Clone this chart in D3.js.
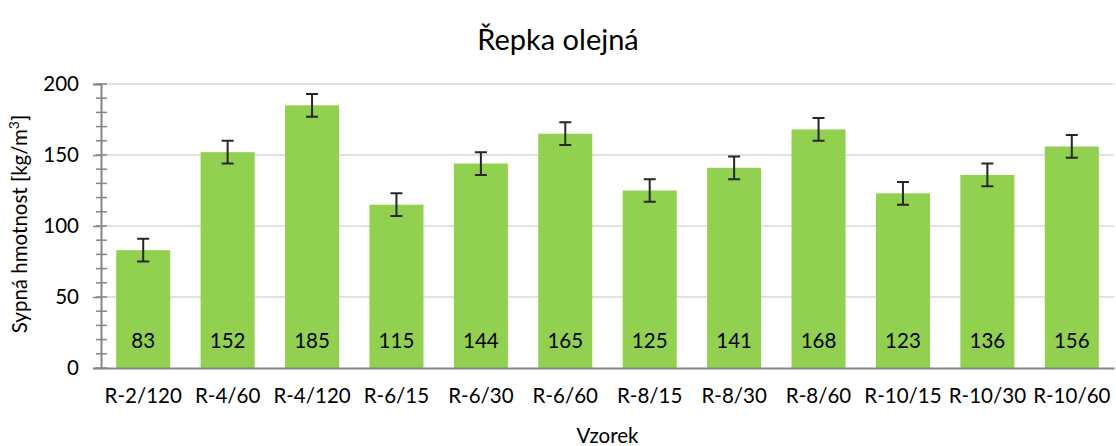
<!DOCTYPE html>
<html lang="cs">
<head>
    <meta charset="UTF-8">
    <title>Řepka olejná</title>
    <script src="https://cdn.jsdelivr.net/npm/d3@7"></script>
    <style>
        body { margin: 0; background: #fff; }
        text { font-family: Lato, "Open Sans", sans-serif; fill: #000; }
    </style>
</head>
<body>
    <svg width="1116" height="446"></svg>
    <script>
        var categories = ["R-2/120","R-4/60","R-4/120","R-6/15","R-6/30","R-6/60","R-8/15","R-8/30","R-8/60","R-10/15","R-10/30","R-10/60"];
        var values = [83,152,185,115,144,165,125,141,168,123,136,156];
        var errors = [8,8,8,8,8,8,8,8,8,8,8,8];
        var yTicks = [0,50,100,150,200];

        var svg = d3.select("svg");
        var marge = {top:84, left:101, right:2, bottom:78};
        var width = 1116 - marge.left - marge.right;
        var height = 446 - marge.top - marge.bottom;
        var g = svg.append("g")
            .attr("transform","translate("+marge.left+","+marge.top+")");

        var xScale = d3.scaleBand()
            .domain(categories)
            .range([0,width])
            .paddingInner(0.36)
            .paddingOuter(0.18);
        var yScale = d3.scaleLinear()
            .domain([0,200])
            .range([height,0]);

        // gridlines
        g.append("g").selectAll("line")
            .data(yTicks.slice(1))
            .enter().append("line")
            .attr("x1",0).attr("x2",width)
            .attr("y1",function(d){ return yScale(d); })
            .attr("y2",function(d){ return yScale(d); })
            .attr("stroke","#d9d9d9").attr("stroke-width",1.5);

        // minor ticks
        g.append("g").selectAll("line")
            .data(d3.range(0,201,10))
            .enter().append("line")
            .attr("x1",-5).attr("x2",6)
            .attr("y1",function(d){ return yScale(d); })
            .attr("y2",function(d){ return yScale(d); })
            .attr("stroke","#868686").attr("stroke-width",1.5);

        // y axis
        var yAxis = d3.axisLeft(yScale).tickValues(yTicks).tickSize(8).tickPadding(14);
        var ya = g.append("g").call(yAxis);
        ya.select(".domain").attr("stroke","#868686").attr("stroke-width",2);
        ya.selectAll(".tick line").attr("stroke","#868686").attr("stroke-width",1.5);
        ya.selectAll("text").style("font-size","20.5px").attr("fill","#000");

        // bars
        var gs = g.selectAll(".bar").data(values).enter().append("g");
        gs.append("rect")
            .attr("x",function(d,i){ return xScale(categories[i]); })
            .attr("y",function(d){ return yScale(d); })
            .attr("width",xScale.bandwidth())
            .attr("height",function(d){ return height - yScale(d); })
            .attr("fill","#92d050");

        // error bars
        gs.append("path")
            .attr("d",function(d,i){
                var cx = xScale(categories[i]) + xScale.bandwidth()/2;
                var t = yScale(d + errors[i]), b = yScale(d - errors[i]);
                return "M"+(cx-6)+","+t+"H"+(cx+6)+"M"+cx+","+t+"V"+b+"M"+(cx-6)+","+b+"H"+(cx+6);
            })
            .attr("stroke","#262626").attr("stroke-width",2).attr("fill","none");

        // value labels
        gs.append("text")
            .attr("x",function(d,i){ return xScale(categories[i]) + xScale.bandwidth()/2; })
            .attr("y",height - 20)
            .attr("text-anchor","middle")
            .style("font-size","20.5px")
            .text(function(d){ return d; });

        // x axis
        var xAxis = d3.axisBottom(xScale).tickSize(0).tickPadding(20);
        var xa = g.append("g").attr("transform","translate(0,"+height+")").call(xAxis);
        xa.select(".domain").attr("stroke","#868686").attr("stroke-width",2);
        xa.selectAll("text").style("font-size","20.5px").attr("fill","#000");

        // title and axis titles
        svg.append("text")
            .attr("x",558).attr("y",50)
            .attr("text-anchor","middle")
            .style("font-size","29px")
            .text("Řepka olejná");
        svg.append("text")
            .attr("x",marge.left + width/2).attr("y",443)
            .attr("text-anchor","middle")
            .style("font-size","20.5px")
            .text("Vzorek");
        var yl = svg.append("text")
            .attr("transform","translate(27,"+(marge.top + height/2 - 2)+") rotate(-90)")
            .attr("text-anchor","middle")
            .style("font-size","20.5px");
        yl.append("tspan").text("Sypná hmotnost [kg/m");
        yl.append("tspan").attr("dy",-8).style("font-size","14px").text("3");
        yl.append("tspan").attr("dy",8).text("]");
    </script>
</body>
</html>
